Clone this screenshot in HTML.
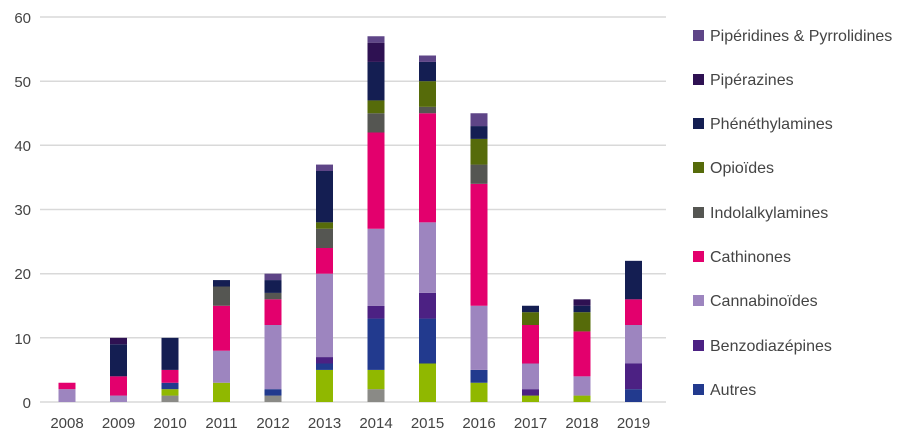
<!DOCTYPE html>
<html><head><meta charset="utf-8"><style>
html,body{margin:0;padding:0;background:#fff;}
svg{display:block;font-family:"Liberation Sans",sans-serif;}
</style></head><body>
<svg id="c" width="908" height="441" viewBox="0 0 908 441">
<g stroke="#d9d9d9" stroke-width="1.5">
<line x1="40" x2="666" y1="17" y2="17"/>
<line x1="40" x2="666" y1="81.2" y2="81.2"/>
<line x1="40" x2="666" y1="145.3" y2="145.3"/>
<line x1="40" x2="666" y1="209.5" y2="209.5"/>
<line x1="40" x2="666" y1="273.7" y2="273.7"/>
<line x1="40" x2="666" y1="337.8" y2="337.8"/>
<line x1="40" x2="666" y1="402" y2="402"/>
</g>
<g font-size="15" fill="#444" text-anchor="end">
<text x="31" y="23">60</text><text x="31" y="87">50</text><text x="31" y="151">40</text>
<text x="31" y="215">30</text><text x="31" y="279">20</text><text x="31" y="344">10</text>
<text x="31" y="408">0</text>
</g>
<g font-size="15" fill="#444" text-anchor="middle">
<text x="67" y="428">2008</text><text x="118.5" y="428">2009</text><text x="170" y="428">2010</text>
<text x="221.5" y="428">2011</text><text x="273" y="428">2012</text><text x="324.5" y="428">2013</text>
<text x="376" y="428">2014</text><text x="427.5" y="428">2015</text><text x="479" y="428">2016</text>
<text x="530.5" y="428">2017</text><text x="582" y="428">2018</text><text x="633.5" y="428">2019</text>
</g>
<g id="bars"></g>
<g>
<rect x="693" y="30" width="11" height="11" fill="#5e4587"/>
<rect x="693" y="74" width="11" height="11" fill="#2e1152"/>
<rect x="693" y="118" width="11" height="11" fill="#141e52"/>
<rect x="693" y="162" width="11" height="11" fill="#566b0a"/>
<rect x="693" y="207" width="11" height="11" fill="#555652"/>
<rect x="693" y="251" width="11" height="11" fill="#e3006d"/>
<rect x="693" y="295" width="11" height="11" fill="#9d85bf"/>
<rect x="693" y="340" width="11" height="11" fill="#4c2183"/>
<rect x="693" y="384" width="11" height="11" fill="#223a8e"/>
</g>
<g font-size="16" fill="#444">
<text x="710" y="41">Pipéridines &amp; Pyrrolidines</text>
<text x="710" y="85">Pipérazines</text>
<text x="710" y="129">Phénéthylamines</text>
<text x="710" y="173">Opioïdes</text>
<text x="710" y="218">Indolalkylamines</text>
<text x="710" y="262">Cathinones</text>
<text x="710" y="306">Cannabinoïdes</text>
<text x="710" y="351">Benzodiazépines</text>
<text x="710" y="395">Autres</text>
</g>
</svg>
<script>
var cols=["#8a8a86","#90b800","#223a8e","#4c2183","#9d85bf","#e3006d","#555652","#566b0a","#141e52","#2e1152","#5e4587"];
var d=[
[0,0,0,0,2,1,0,0,0,0,0],
[0,0,0,0,1,3,0,0,5,1,0],
[1,1,1,0,0,2,0,0,5,0,0],
[0,3,0,0,5,7,3,0,1,0,0],
[1,0,1,0,10,4,1,0,2,0,1],
[0,5,1,1,13,4,3,1,8,0,1],
[2,3,8,2,12,15,3,2,6,3,1],
[0,6,7,4,11,17,1,4,3,0,1],
[0,3,2,0,10,19,3,4,2,0,2],
[0,1,0,1,4,6,0,2,1,0,0],
[0,1,0,0,3,7,0,3,1,1,0],
[0,0,2,4,6,4,0,0,6,0,0]];
var g=document.getElementById("bars"),s="",u=385/60;
for(var i=0;i<12;i++){var cx=67+i*51.5,y=402;for(var k=0;k<11;k++){var v=d[i][k];if(!v)continue;var h=v*u;y-=h;
s+='<rect x="'+(cx-8.5)+'" y="'+y.toFixed(2)+'" width="17" height="'+h.toFixed(2)+'" fill="'+cols[k]+'"/>';}}
g.innerHTML=s;
</script>
</body></html>
